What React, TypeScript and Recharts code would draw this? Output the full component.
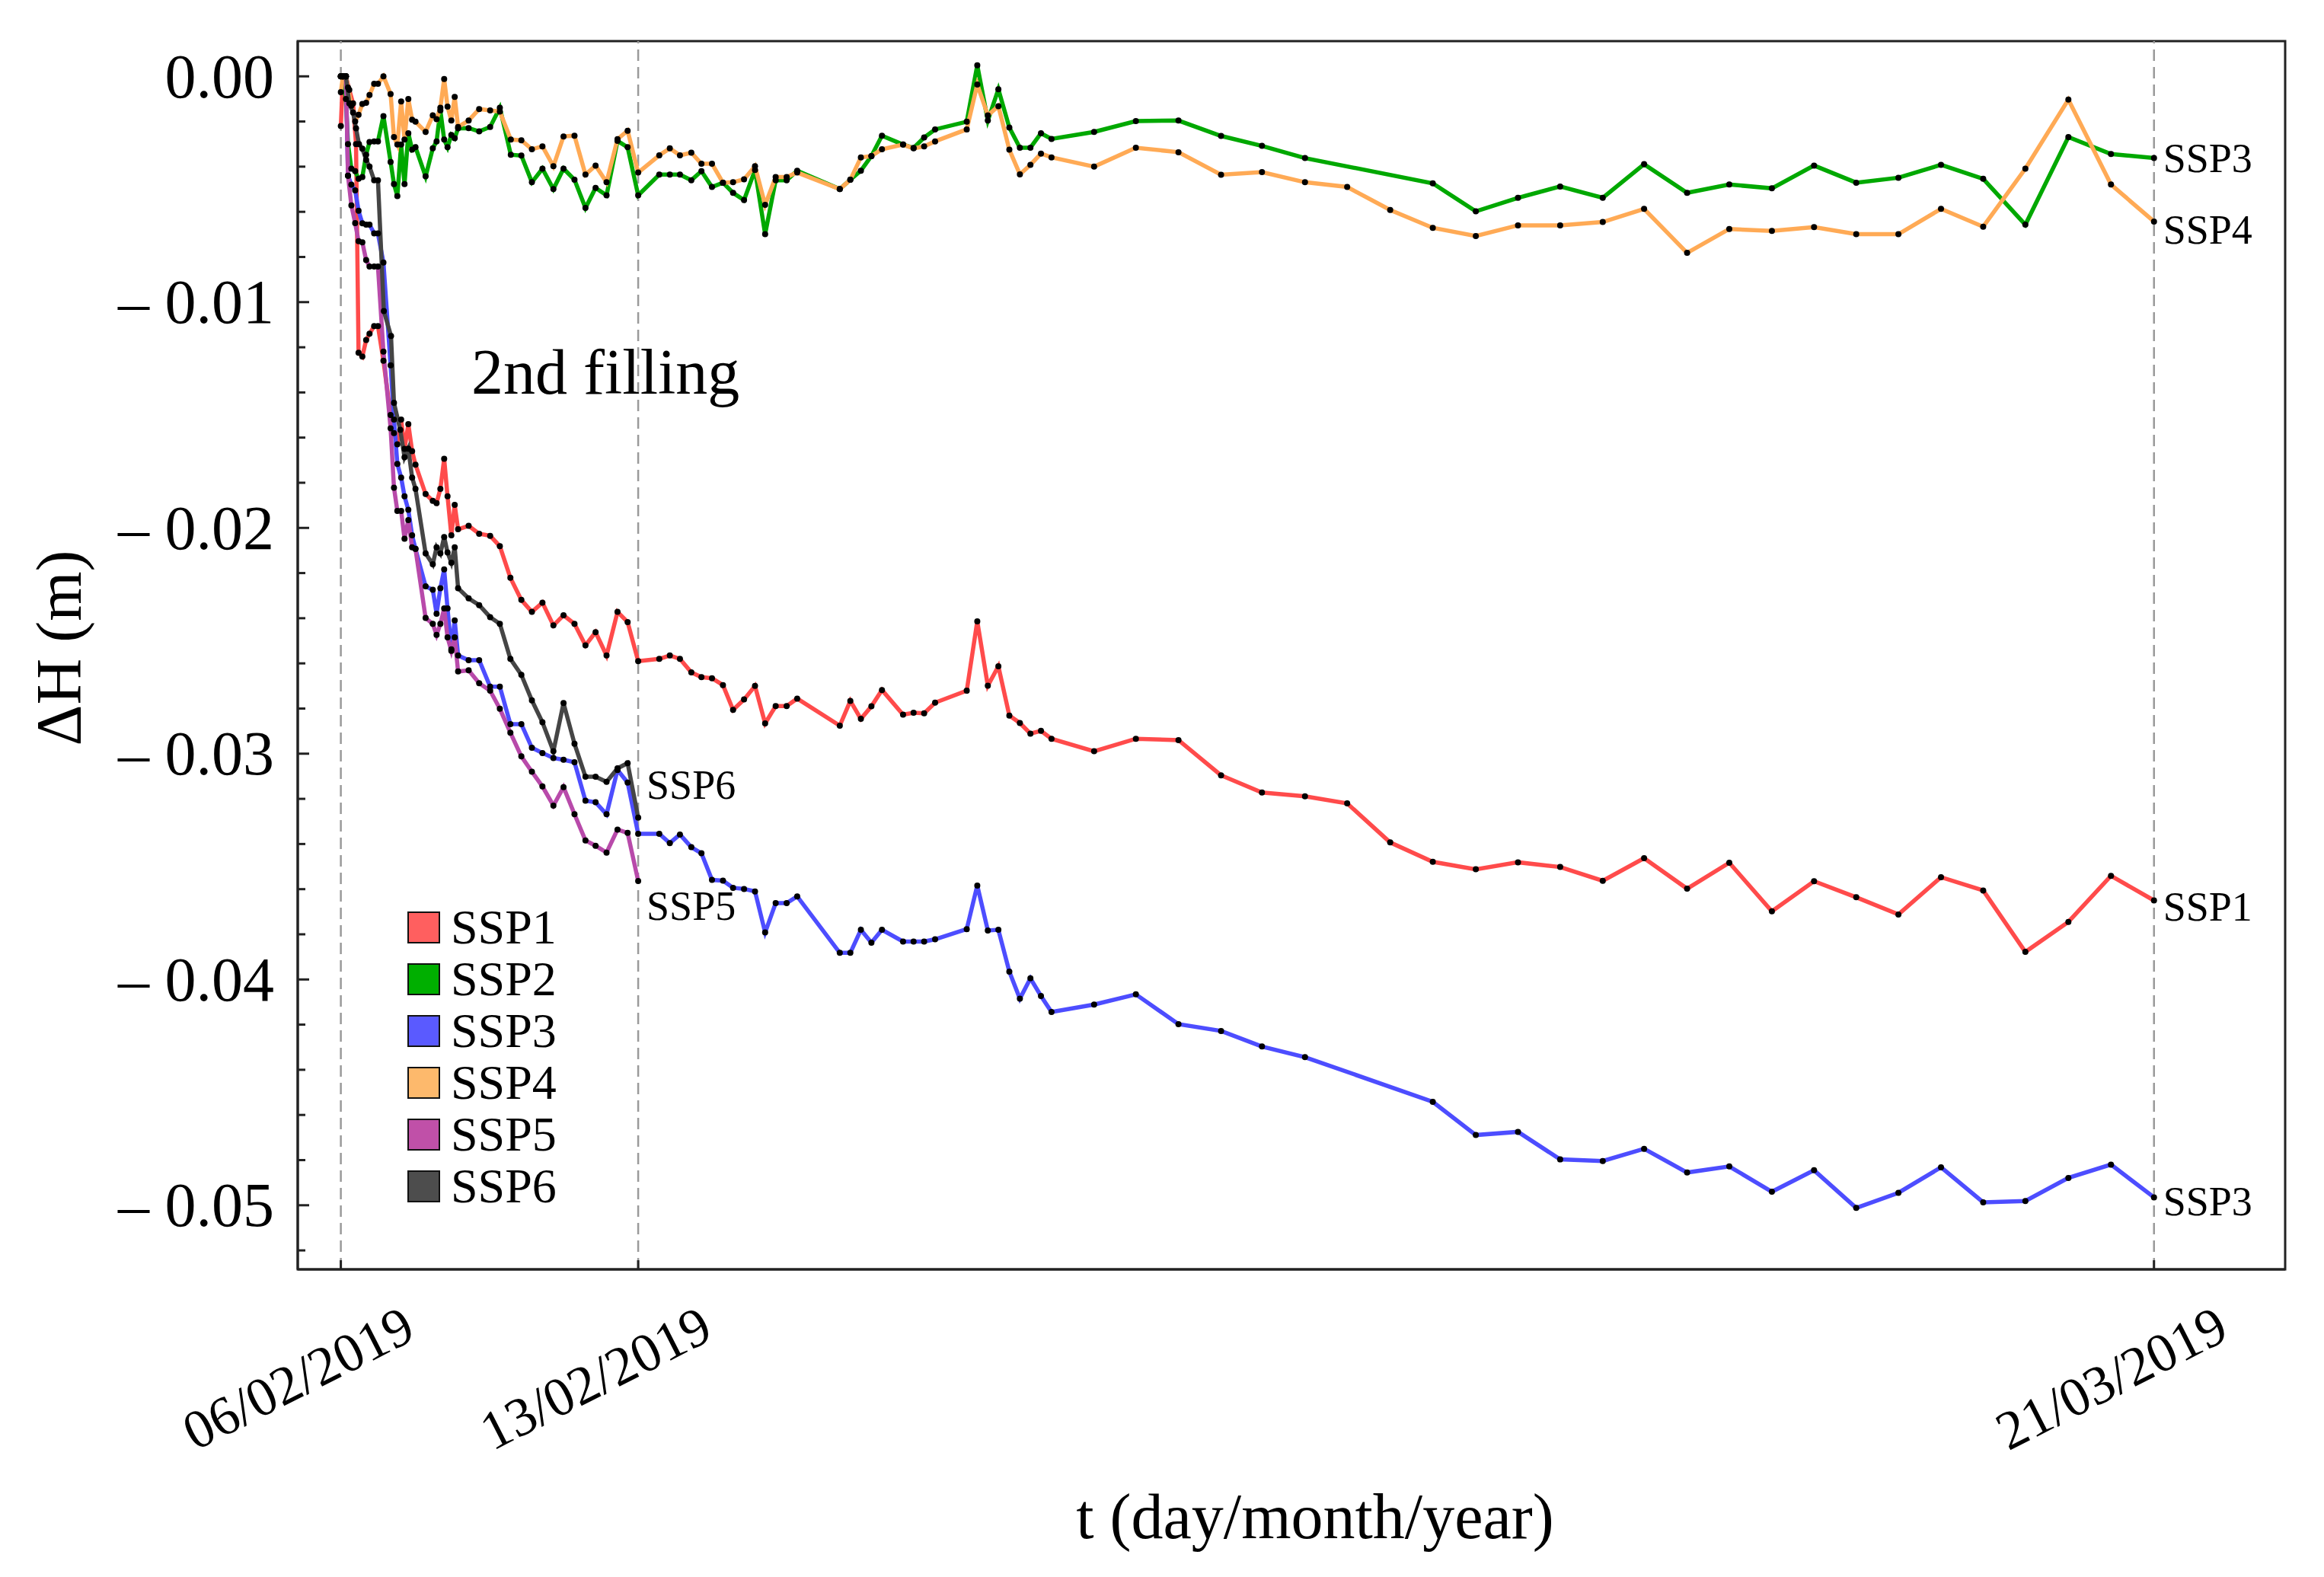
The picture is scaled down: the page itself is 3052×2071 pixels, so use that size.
import React from 'react';
import { LineChart, Line, XAxis, YAxis, ReferenceLine, ReferenceArea, Legend, LabelList } from 'recharts';

// ---------- data (day offset from 06/02/2019, settlement ΔH in m) ----------
type P = [number, number];

const SSP1: P[] = [
  [0.00, -0.0022], [0.05, 0], [0.12, 0], [0.20, -0.0006], [0.29, -0.0012], [0.36, -0.0030], [0.42, -0.01224], [0.51, -0.01241],
  [0.60, -0.01168], [0.68, -0.0114], [0.79, -0.01106], [0.88, -0.01106], [1.01, -0.0126], [1.18, -0.0150], [1.26, -0.0158],
  [1.34, -0.0163], [1.43, -0.0152], [1.51, -0.0165], [1.60, -0.0154], [1.69, -0.0166], [1.77, -0.0172], [2.01, -0.0185],
  [2.18, -0.0188], [2.27, -0.0189], [2.36, -0.01827], [2.45, -0.01694], [2.53, -0.0186], [2.62, -0.02033], [2.70, -0.01898],
  [2.78, -0.02006], [3.03, -0.01991], [3.28, -0.02026], [3.54, -0.02035], [3.77, -0.02081], [4.02, -0.02221], [4.28, -0.02319],
  [4.53, -0.02372], [4.78, -0.02331], [5.04, -0.02432], [5.28, -0.02387], [5.54, -0.02425], [5.80, -0.0252], [6.04, -0.02462],
  [6.30, -0.02565], [6.56, -0.02372], [6.80, -0.02417], [7.05, -0.0259], [7.55, -0.0258], [7.80, -0.02565], [8.04, -0.0258],
  [8.31, -0.0264], [8.55, -0.02661], [8.80, -0.02666], [9.06, -0.02696], [9.30, -0.02806], [9.56, -0.0276], [9.82, -0.027],
  [10.06, -0.02866], [10.31, -0.02789], [10.57, -0.02789], [10.82, -0.02756], [11.83, -0.02876], [12.08, -0.02766],
  [12.33, -0.02846], [12.58, -0.0279], [12.83, -0.02718], [13.33, -0.02827], [13.58, -0.02819], [13.83, -0.02821],
  [14.09, -0.02774], [14.84, -0.02721], [15.09, -0.02414], [15.34, -0.02699], [15.59, -0.02613], [15.85, -0.02831],
  [16.10, -0.02864], [16.35, -0.02911], [16.60, -0.02899], [16.85, -0.02934], [17.86, -0.02989], [18.85, -0.02934],
  [19.86, -0.0294], [20.87, -0.03096], [21.84, -0.03172], [22.86, -0.03189], [23.86, -0.0322], [24.88, -0.03393],
  [25.89, -0.03479], [26.91, -0.03512], [27.91, -0.03481], [28.91, -0.03502], [29.92, -0.03563], [30.90, -0.03463],
  [31.92, -0.03598], [32.92, -0.03483], [33.93, -0.03698], [34.93, -0.03565], [35.93, -0.03636], [36.93, -0.03712],
  [37.94, -0.03547], [38.94, -0.03606], [39.94, -0.03878], [40.96, -0.03745], [41.97, -0.03541], [42.99, -0.0365],
];

const SSP2: P[] = [
  [0, 0], [0.05, 0], [0.12, -0.0010], [0.17, -0.0030], [0.25, -0.00409], [0.34, -0.0042], [0.42, -0.00454], [0.51, -0.00446],
  [0.60, -0.00347], [0.68, -0.00291], [0.79, -0.00288], [0.88, -0.00288], [1.01, -0.00176], [1.18, -0.00379], [1.26, -0.00477],
  [1.34, -0.0053], [1.43, -0.00302], [1.51, -0.00477], [1.60, -0.00252], [1.69, -0.00325], [1.77, -0.00314], [2.01, -0.00443],
  [2.18, -0.00319], [2.27, -0.00288], [2.36, -0.00151], [2.45, -0.0028], [2.53, -0.00314], [2.62, -0.0026], [2.70, -0.00274],
  [2.78, -0.0023], [3.03, -0.00229], [3.28, -0.00244], [3.54, -0.00224], [3.77, -0.00139], [4.03, -0.00347], [4.28, -0.00351],
  [4.53, -0.00469], [4.78, -0.00409], [5.04, -0.00499], [5.28, -0.00409], [5.54, -0.00458], [5.80, -0.00583], [6.04, -0.00494],
  [6.30, -0.00527], [6.56, -0.00286], [6.80, -0.00314], [7.05, -0.00527], [7.55, -0.00435], [7.80, -0.00435], [8.04, -0.00435],
  [8.31, -0.0046], [8.55, -0.0042], [8.80, -0.0049], [9.06, -0.00471], [9.30, -0.00516], [9.56, -0.00548], [9.82, -0.00415],
  [10.06, -0.00699], [10.31, -0.0046], [10.57, -0.0046], [10.82, -0.00418], [11.83, -0.00499], [12.08, -0.00458],
  [12.33, -0.00418], [12.58, -0.00353], [12.83, -0.00263], [13.33, -0.00302], [13.58, -0.00317], [13.83, -0.00271],
  [14.09, -0.00235], [14.84, -0.00201], [15.09, 0.00049], [15.34, -0.00196], [15.59, -0.00057], [15.85, -0.00227],
  [16.10, -0.00316], [16.35, -0.00316], [16.60, -0.00252], [16.85, -0.00277], [17.86, -0.00246], [18.85, -0.00198],
  [19.86, -0.00196], [20.87, -0.00264], [21.84, -0.00308], [22.86, -0.00362], [25.89, -0.00474], [26.91, -0.00598],
  [27.91, -0.00538], [28.91, -0.00488], [29.92, -0.00538], [30.90, -0.00389], [31.92, -0.00516], [32.92, -0.00479],
  [33.93, -0.00496], [34.93, -0.00395], [35.93, -0.00471], [36.93, -0.00449], [37.94, -0.00392], [38.94, -0.00454],
  [39.94, -0.00657], [40.96, -0.00269], [41.97, -0.00344], [42.99, -0.00362],
];

const SSP3: P[] = [
  [0, 0], [0.05, 0], [0.12, 0], [0.17, -0.0044], [0.25, -0.0048], [0.34, -0.00505], [0.42, -0.00595], [0.51, -0.00651],
  [0.60, -0.00657], [0.68, -0.00657], [0.79, -0.00696], [0.88, -0.00696], [1.01, -0.00825], [1.18, -0.0128], [1.26, -0.0152],
  [1.34, -0.01717], [1.43, -0.01777], [1.51, -0.0186], [1.60, -0.0192], [1.69, -0.02033], [1.77, -0.02093], [2.01, -0.02259],
  [2.18, -0.02274], [2.27, -0.0238], [2.36, -0.02267], [2.45, -0.02184], [2.53, -0.02357], [2.62, -0.02538], [2.70, -0.0241],
  [2.78, -0.02565], [3.03, -0.02586], [3.28, -0.02586], [3.54, -0.02703], [3.77, -0.02703], [4.02, -0.02869], [4.28, -0.02869],
  [4.53, -0.02974], [4.78, -0.02997], [5.04, -0.03019], [5.28, -0.03027], [5.54, -0.03038], [5.80, -0.03208], [6.04, -0.03215],
  [6.30, -0.03268], [6.56, -0.03072], [6.80, -0.03128], [7.05, -0.03355], [7.55, -0.03355], [7.80, -0.03396], [8.04, -0.03358],
  [8.31, -0.03414], [8.55, -0.03441], [8.80, -0.03559], [9.06, -0.03562], [9.30, -0.03594], [9.56, -0.03599], [9.82, -0.0361],
  [10.06, -0.03792], [10.31, -0.03662], [10.57, -0.03662], [10.82, -0.03632], [11.83, -0.03882], [12.08, -0.03882],
  [12.33, -0.0378], [12.58, -0.03837], [12.83, -0.0378], [13.33, -0.03832], [13.58, -0.03832], [13.83, -0.03832],
  [14.09, -0.03822], [14.84, -0.03777], [15.09, -0.03584], [15.34, -0.03783], [15.59, -0.0378], [15.85, -0.03965],
  [16.10, -0.04085], [16.35, -0.03995], [16.60, -0.04073], [16.85, -0.04144], [17.86, -0.04111], [18.85, -0.04066],
  [19.86, -0.04198], [20.87, -0.04228], [21.84, -0.04297], [22.86, -0.04344], [25.89, -0.04542], [26.91, -0.04689],
  [27.91, -0.04675], [28.91, -0.04797], [29.92, -0.04804], [30.90, -0.0475], [31.92, -0.04855], [32.92, -0.04828],
  [33.93, -0.0494], [34.93, -0.04845], [35.93, -0.05012], [36.93, -0.04945], [37.94, -0.04832], [38.94, -0.04987],
  [39.94, -0.04981], [40.96, -0.04879], [41.97, -0.0482], [42.99, -0.04965],
];

const SSP4: P[] = [
  [0, -0.0007], [0.05, 0], [0.12, 0], [0.17, -0.0005], [0.25, -0.0013], [0.34, -0.0020], [0.42, -0.0017], [0.51, -0.00122],
  [0.60, -0.00117], [0.68, -0.00083], [0.79, -0.00033], [0.88, -0.00033], [1.01, 0], [1.18, -0.00078], [1.26, -0.00269],
  [1.34, -0.00302], [1.43, -0.00111], [1.51, -0.0028], [1.60, -0.0010], [1.69, -0.00192], [1.77, -0.00201], [2.01, -0.00246],
  [2.18, -0.00173], [2.27, -0.0019], [2.36, -0.00139], [2.45, -0.00012], [2.53, -0.00134], [2.62, -0.00196], [2.70, -0.00091],
  [2.78, -0.00224], [3.03, -0.00196], [3.28, -0.00145], [3.54, -0.00151], [3.77, -0.00156], [4.03, -0.0028], [4.28, -0.00283],
  [4.53, -0.00323], [4.78, -0.0031], [5.04, -0.00398], [5.28, -0.00266], [5.54, -0.00263], [5.80, -0.00435], [6.04, -0.00395],
  [6.30, -0.00469], [6.56, -0.00278], [6.80, -0.00241], [7.05, -0.00426], [7.55, -0.0035], [7.80, -0.00319], [8.04, -0.0035],
  [8.31, -0.00338], [8.55, -0.00387], [8.80, -0.00387], [9.06, -0.00471], [9.30, -0.00469], [9.56, -0.00456], [9.82, -0.00398],
  [10.06, -0.00569], [10.31, -0.00446], [10.57, -0.00446], [10.82, -0.00426], [11.83, -0.00499], [12.08, -0.00458],
  [12.33, -0.00359], [12.58, -0.00353], [12.83, -0.00323], [13.33, -0.00302], [13.58, -0.00319], [13.83, -0.0031],
  [14.09, -0.00288], [14.84, -0.00235], [15.09, -0.00036], [15.34, -0.00173], [15.59, -0.00132], [15.85, -0.00325],
  [16.10, -0.00434], [16.35, -0.00392], [16.60, -0.00342], [16.85, -0.00359], [17.86, -0.004], [18.85, -0.00316],
  [19.86, -0.00336], [20.87, -0.00436], [21.84, -0.00424], [22.86, -0.00469], [23.86, -0.0049], [24.88, -0.00592],
  [25.89, -0.00671], [26.91, -0.00707], [27.91, -0.0066], [28.91, -0.0066], [29.92, -0.00645], [30.90, -0.00587],
  [31.92, -0.00782], [32.92, -0.00676], [33.93, -0.00685], [34.93, -0.00668], [35.93, -0.00699], [36.93, -0.00699],
  [37.94, -0.00587], [38.94, -0.00666], [39.94, -0.00409], [40.96, -0.00103], [41.97, -0.00479], [42.99, -0.00643],
];

const SSP5: P[] = [
  [0, 0], [0.05, 0], [0.12, 0], [0.17, -0.0044], [0.25, -0.00572], [0.34, -0.0065], [0.42, -0.0073], [0.51, -0.00735],
  [0.60, -0.00814], [0.68, -0.00842], [0.79, -0.00842], [0.88, -0.00842], [1.01, -0.01219], [1.18, -0.01559], [1.26, -0.01822],
  [1.34, -0.01925], [1.43, -0.01925], [1.51, -0.02048], [1.60, -0.01965], [1.69, -0.02086], [1.77, -0.02093], [2.01, -0.02399],
  [2.18, -0.02425], [2.27, -0.02474], [2.36, -0.02425], [2.45, -0.02357], [2.53, -0.02485], [2.62, -0.02545], [2.70, -0.02485],
  [2.78, -0.02636], [3.03, -0.02631], [3.28, -0.02688], [3.54, -0.02721], [3.77, -0.02801], [4.02, -0.02907], [4.28, -0.03012],
  [4.53, -0.0308], [4.78, -0.03145], [5.04, -0.0323], [5.28, -0.03148], [5.54, -0.03268], [5.80, -0.03384], [6.04, -0.03408],
  [6.30, -0.03438], [6.56, -0.03336], [6.80, -0.03351], [7.05, -0.03564],
];

const SSP6: P[] = [
  [0, 0], [0.05, 0], [0.12, 0], [0.20, -0.0012], [0.29, -0.0016], [0.36, -0.0023], [0.43, -0.0030], [0.51, -0.0032],
  [0.60, -0.0037], [0.68, -0.0040], [0.79, -0.0046], [0.88, -0.0046], [1.02, -0.0104], [1.19, -0.0115], [1.26, -0.01446],
  [1.41, -0.01566], [1.51, -0.01687], [1.60, -0.01649], [1.69, -0.01777], [1.77, -0.01827], [2.01, -0.02113], [2.18, -0.02161],
  [2.27, -0.02086], [2.36, -0.02113], [2.45, -0.0204], [2.53, -0.02109], [2.62, -0.02154], [2.70, -0.02086], [2.78, -0.02267],
  [3.03, -0.02312], [3.28, -0.02342], [3.54, -0.02395], [3.77, -0.02425], [4.02, -0.0258], [4.28, -0.02651], [4.53, -0.02764],
  [4.78, -0.02861], [5.04, -0.02989], [5.28, -0.02776], [5.54, -0.02956], [5.80, -0.03102], [6.04, -0.03102], [6.30, -0.03125],
  [6.56, -0.03065], [6.80, -0.03042], [7.05, -0.03283],
];

const X_TICKS = [0, 7.05, 42.99];
const X_TICK_LABELS = ['06/02/2019', '13/02/2019', '21/03/2019'];
const Y_TICKS = [
  0, -0.002, -0.004, -0.006, -0.008, -0.01, -0.012, -0.014, -0.016, -0.018, -0.02, -0.022, -0.024, -0.026,
  -0.028, -0.03, -0.032, -0.034, -0.036, -0.038, -0.04, -0.042, -0.044, -0.046, -0.048, -0.05, -0.052,
];
const Y_MAJOR = [0, -0.01, -0.02, -0.03, -0.04, -0.05];
const Y_MAJOR_LABELS = ['0.00', '\u2013 0.01', '\u2013 0.02', '\u2013 0.03', '\u2013 0.04', '\u2013 0.05'];
const X_DOMAIN: [number, number] = [-1.022, 46.1];
const Y_DOMAIN: [number, number] = [-0.05284, 0.00156];

// ---------- layout / style ----------
const W = 3052;
const H = 2071;
const PLOT_LEFT = 391;
const PLOT_TOP = 54;
const PLOT_RIGHT = 3001;
const PLOT_BOTTOM = 1667;
const FONT = '"Liberation Serif", "Times New Roman", Times, serif';

const SERIES = [
  { name: 'SSP1', data: SSP1, stroke: '#FF4B4B', legend: '#FF5F5F', end: 'SSP1', dx: 12, dy: 8 },
  { name: 'SSP2', data: SSP2, stroke: '#00A800', legend: '#00AF00', end: 'SSP3', dx: 12, dy: 0 },
  { name: 'SSP3', data: SSP3, stroke: '#4D4DFF', legend: '#5A5AFF', end: 'SSP3', dx: 12, dy: 6 },
  { name: 'SSP4', data: SSP4, stroke: '#FFAA55', legend: '#FDB96C', end: 'SSP4', dx: 12, dy: 11 },
  { name: 'SSP5', data: SSP5, stroke: '#B84AAA', legend: '#C050A8', end: 'SSP5', dx: 11, dy: 33 },
  { name: 'SSP6', data: SSP6, stroke: '#454545', legend: '#4D4D4D', end: 'SSP6', dx: 11, dy: -43 },
];

const toRows = (pts: P[]) => pts.map(([d, v]) => ({ d, v }));

function YTick(props: any) {
  const { y, payload } = props;
  const v = payload.value;
  const idx = Y_MAJOR.findIndex((m) => Math.abs(m - v) < 1e-9);
  const major = idx >= 0;
  return (
    <g>
      <line x1={PLOT_LEFT} x2={PLOT_LEFT + (major ? 15 : 10)} y1={y} y2={y} stroke="#222" strokeWidth={3} />
      {major && (
        <text x={360} y={y} textAnchor="end" dominantBaseline="central" fontFamily={FONT} fontSize={82} fill="#000">
          {Y_MAJOR_LABELS[idx]}
        </text>
      )}
    </g>
  );
}

function XTick(props: any) {
  const { x, payload } = props;
  const idx = X_TICKS.findIndex((t) => Math.abs(t - payload.value) < 1e-6);
  const cx = x - 56;
  const cy = PLOT_BOTTOM + 143;
  return (
    <g>
      <line x1={x} x2={x} y1={PLOT_BOTTOM} y2={PLOT_BOTTOM - 12} stroke="#222" strokeWidth={3} />
      <text x={cx} y={cy} transform={`rotate(-27, ${cx}, ${cy})`} textAnchor="middle" dominantBaseline="central"
        fontFamily={FONT} fontSize={72} fill="#000">
        {idx >= 0 ? X_TICK_LABELS[idx] : ''}
      </text>
    </g>
  );
}

const endLabel = (text: string, dx: number, dy: number, last: number) => (p: any) => {
  if (p.index !== last) return null;
  const vb = p.viewBox || {};
  const px = p.x ?? vb.x;
  const py = p.y ?? vb.y;
  return (
    <text x={px + dx} y={py + dy} dominantBaseline="central" fontFamily={FONT} fontSize={54} fill="#000">
      {text}
    </text>
  );
};

function LegendBox() {
  return (
    <div>
      {SERIES.map((s) => (
        <div key={s.name} style={{ display: 'flex', alignItems: 'center', height: 68 }}>
          <div style={{ width: 43, height: 42, boxSizing: 'border-box', border: '2.5px solid #111', background: s.legend }} />
          <span style={{ marginLeft: 14, fontFamily: FONT, fontSize: 64, lineHeight: '68px', color: '#000', whiteSpace: 'nowrap' }}>
            {s.name}
          </span>
        </div>
      ))}
    </div>
  );
}

export default function App() {
  return (
    <div style={{ position: 'absolute', left: 0, top: 0, width: W, height: H, background: '#fff' }}>
      <LineChart width={W} height={H} margin={{ top: PLOT_TOP, right: W - PLOT_RIGHT, bottom: 0, left: 0 }}>
        <XAxis
          type="number"
          dataKey="d"
          domain={X_DOMAIN}
          ticks={X_TICKS}
          interval={0}
          allowDataOverflow
          height={H - PLOT_BOTTOM}
          axisLine={{ stroke: '#222', strokeWidth: 3 }}
          tickLine={false}
          tick={<XTick />}
        />
        <YAxis
          type="number"
          domain={Y_DOMAIN}
          ticks={Y_TICKS}
          interval={0}
          allowDataOverflow
          width={PLOT_LEFT}
          axisLine={{ stroke: '#222', strokeWidth: 3 }}
          tickLine={false}
          tick={<YTick />}
        />
        <ReferenceArea
          x1={X_DOMAIN[0]}
          x2={X_DOMAIN[1]}
          y1={Y_DOMAIN[0]}
          y2={Y_DOMAIN[1]}
          fill="none"
          fillOpacity={0}
          stroke="#222"
          strokeWidth={3}
          ifOverflow="visible"
        />
        {X_TICKS.map((t) => (
          <ReferenceLine key={t} x={t} stroke="#9a9a9a" strokeWidth={2.5} strokeDasharray="15 8" />
        ))}
        {SERIES.map((s) => (
          <Line
            key={s.name}
            name={s.name}
            data={toRows(s.data)}
            dataKey="v"
            type="linear"
            stroke={s.stroke}
            strokeWidth={5.5}
            dot={{ r: 4, fill: '#000', stroke: '#000', strokeWidth: 0 }}
            activeDot={false}
            isAnimationActive={false}
          >
            <LabelList dataKey="v" content={endLabel(s.end, s.dx, s.dy, s.data.length - 1)} />
          </Line>
        ))}
        <Legend
          layout="vertical"
          align="center"
          verticalAlign="middle"
          wrapperStyle={{ left: 535, top: 1184, width: 'auto', height: 'auto' }}
          content={() => <LegendBox />}
        />
      </LineChart>
      <svg width={W} height={H} style={{ position: 'absolute', left: 0, top: 0, pointerEvents: 'none' }}>
        <text x={106} y={851} transform="rotate(-90, 106, 851)" textAnchor="middle" fontFamily={FONT} fontSize={84} fill="#000">
          ΔH (m)
        </text>
        <text x={1727} y={2020} textAnchor="middle" fontFamily={FONT} fontSize={84} fill="#000">
          t (day/month/year)
        </text>
        <text x={619} y={517} fontFamily={FONT} fontSize={84} fill="#000">
          2nd filling
        </text>
      </svg>
    </div>
  );
}
